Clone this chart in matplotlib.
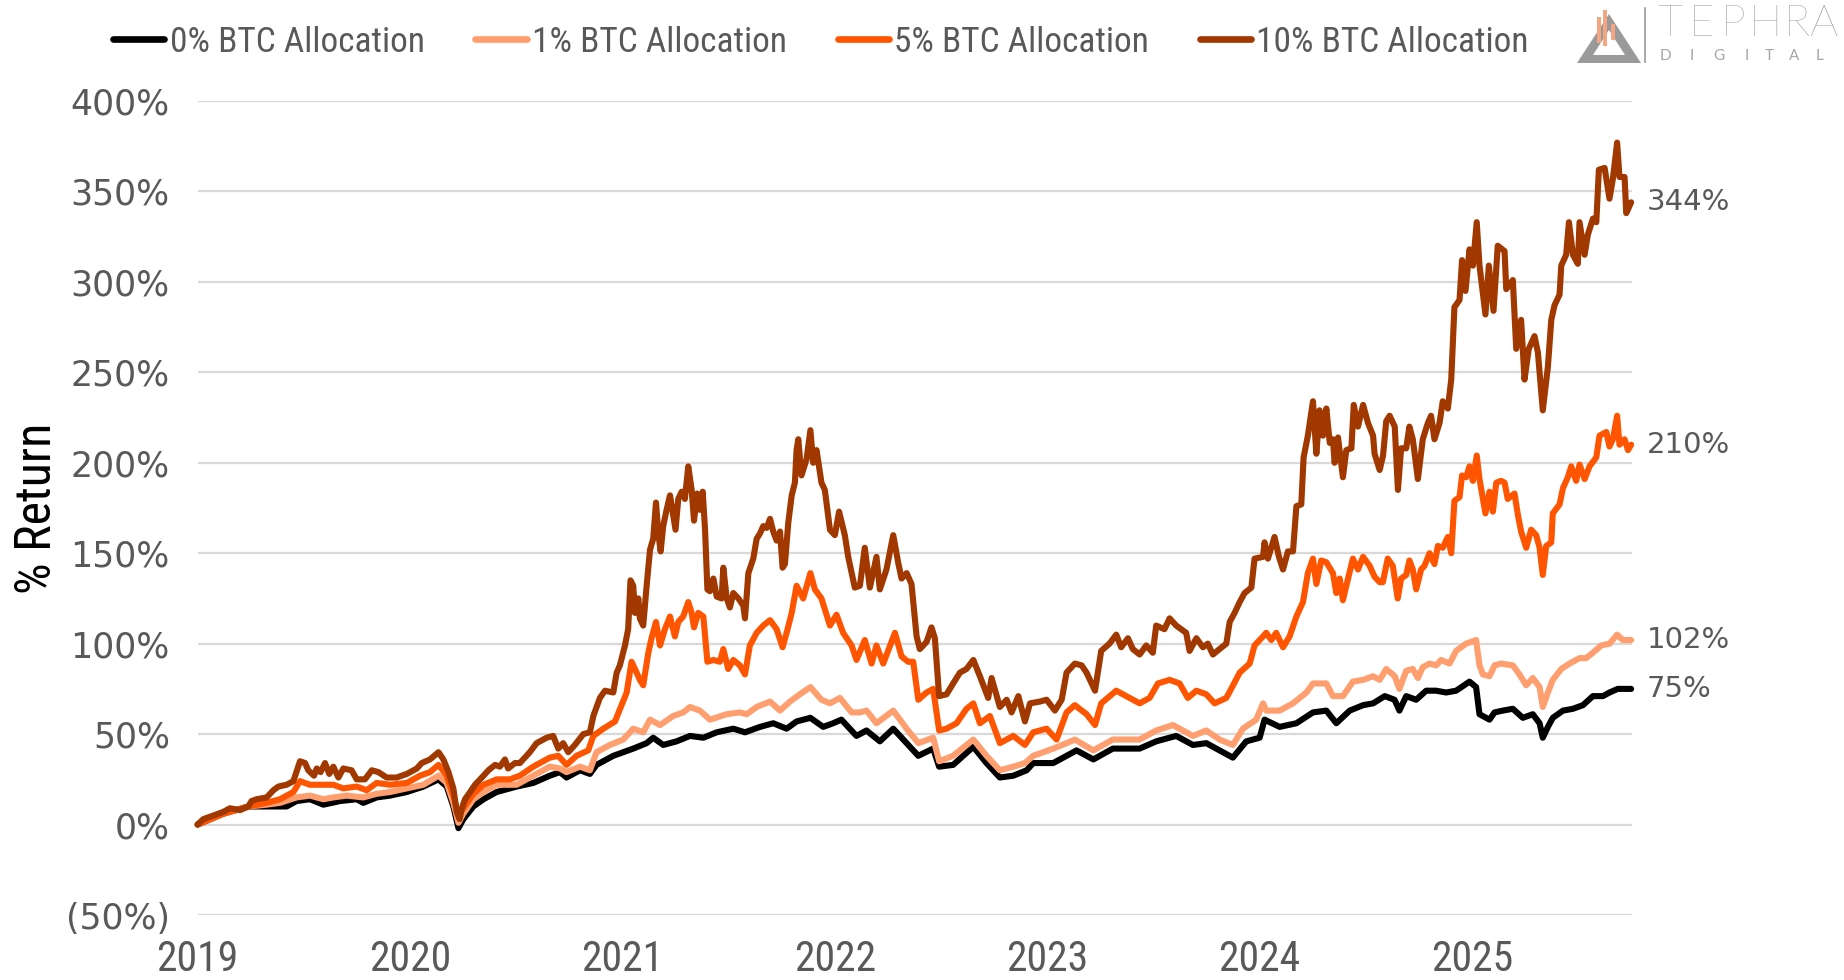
import matplotlib
matplotlib.use("Agg")
import matplotlib.pyplot as plt
from matplotlib.lines import Line2D
from matplotlib.patches import Polygon, Rectangle
from matplotlib.ticker import FixedLocator, FuncFormatter

# ---------------- data (decimal years, % return) ----------------
SERIES_NAMES = ["0% BTC Allocation", "1% BTC Allocation", "5% BTC Allocation", "10% BTC Allocation"]
SERIES_COLORS = ["#000000", "#FF9E6E", "#FF5500", "#A03800"]

BTC0_X = [2019.0, 2019.121, 2019.239, 2019.325, 2019.419, 2019.466, 2019.529, 2019.592, 2019.671, 2019.749,
          2019.78, 2019.843, 2019.906, 2019.985, 2020.063, 2020.134, 2020.173, 2020.204, 2020.228, 2020.251,
          2020.298, 2020.346, 2020.408, 2020.502, 2020.58, 2020.658, 2020.706, 2020.737, 2020.8, 2020.847,
          2020.878, 2020.957, 2021.051, 2021.114, 2021.145, 2021.192, 2021.255, 2021.318, 2021.381, 2021.444,
          2021.522, 2021.577, 2021.648, 2021.71, 2021.773, 2021.82, 2021.885, 2021.945, 2021.992, 2022.031,
          2022.102, 2022.149, 2022.212, 2022.275, 2022.338, 2022.393, 2022.463, 2022.491, 2022.557, 2022.652,
          2022.714, 2022.777, 2022.84, 2022.903, 2022.934, 2023.028, 2023.091, 2023.138, 2023.217, 2023.309,
          2023.435, 2023.513, 2023.607, 2023.686, 2023.749, 2023.811, 2023.874, 2023.937, 2024.0, 2024.023,
          2024.094, 2024.173, 2024.251, 2024.314, 2024.361, 2024.424, 2024.487, 2024.534, 2024.589, 2024.635,
          2024.658, 2024.69, 2024.737, 2024.784, 2024.831, 2024.878, 2024.925, 2024.988, 2025.019, 2025.035,
          2025.082, 2025.106, 2025.145, 2025.192, 2025.239, 2025.286, 2025.318, 2025.333, 2025.357, 2025.38,
          2025.428, 2025.475, 2025.522, 2025.569, 2025.616, 2025.647, 2025.686, 2025.749]
BTC0_Y = [0, 6, 10, 10, 10, 13, 14, 11, 13, 14,
          12, 15, 16, 18, 21, 25, 21, 10, -2, 3,
          10, 14, 18, 21, 23, 27, 29, 26, 30, 28,
          33, 38, 42, 45, 48, 44, 46, 49, 48, 51,
          53, 51, 54, 56, 53, 57, 59, 54, 56, 58,
          49, 52, 46, 53, 45, 38, 42, 32, 33, 43,
          34, 26, 27, 30, 34, 34, 38, 41, 36, 42,
          42, 46, 49, 44, 45, 41, 37, 46, 48, 58,
          54, 56, 62, 63, 56, 63, 66, 67, 71, 69,
          63, 71, 69, 74, 74, 73, 74, 79, 76, 61,
          58, 62, 63, 64, 59, 61, 56, 48, 54, 59,
          63, 64, 66, 71, 71, 73, 75, 75]

BTC1_X = [2019.0, 2019.121, 2019.239, 2019.325, 2019.388, 2019.466, 2019.529, 2019.592, 2019.639, 2019.702,
          2019.78, 2019.843, 2019.906, 2019.985, 2020.063, 2020.134, 2020.173, 2020.204, 2020.228, 2020.251,
          2020.298, 2020.346, 2020.408, 2020.502, 2020.58, 2020.658, 2020.706, 2020.737, 2020.8, 2020.847,
          2020.878, 2020.941, 2021.004, 2021.051, 2021.098, 2021.13, 2021.177, 2021.239, 2021.286, 2021.318,
          2021.365, 2021.412, 2021.491, 2021.553, 2021.585, 2021.632, 2021.695, 2021.742, 2021.789, 2021.835,
          2021.885, 2021.937, 2021.977, 2022.024, 2022.079, 2022.118, 2022.149, 2022.196, 2022.275, 2022.338,
          2022.393, 2022.463, 2022.491, 2022.557, 2022.652, 2022.714, 2022.777, 2022.84, 2022.895, 2022.934,
          2023.028, 2023.091, 2023.13, 2023.217, 2023.309, 2023.435, 2023.513, 2023.592, 2023.686, 2023.749,
          2023.811, 2023.874, 2023.921, 2023.984, 2024.016, 2024.031, 2024.094, 2024.157, 2024.22, 2024.251,
          2024.314, 2024.345, 2024.392, 2024.439, 2024.487, 2024.534, 2024.565, 2024.596, 2024.636, 2024.658,
          2024.69, 2024.721, 2024.745, 2024.768, 2024.8, 2024.831, 2024.854, 2024.894, 2024.925, 2024.972,
          2025.019, 2025.035, 2025.051, 2025.082, 2025.106, 2025.137, 2025.192, 2025.223, 2025.255, 2025.286,
          2025.318, 2025.333, 2025.357, 2025.38, 2025.42, 2025.459, 2025.506, 2025.537, 2025.569, 2025.608,
          2025.647, 2025.683, 2025.71, 2025.749]
BTC1_Y = [0, 6, 10, 11, 12, 15, 16, 14, 15, 16,
          15, 17, 18, 20, 22, 27, 23, 12, 1, 6,
          14, 18, 22, 22, 27, 32, 31, 29, 32, 30,
          40, 44, 47, 53, 51, 58, 55, 60, 62, 65,
          63, 58, 61, 62, 61, 65, 68, 63, 68, 72,
          76, 69, 67, 70, 62, 62, 63, 56, 63, 53,
          45, 48, 35, 38, 47, 38, 30, 32, 34, 38,
          42, 45, 47, 41, 47, 47, 52, 55, 49, 52,
          47, 44, 53, 58, 67, 63, 63, 67, 73, 78,
          78, 71, 71, 79, 80, 82, 80, 86, 82, 75,
          85, 86, 81, 87, 89, 88, 91, 89, 96, 100,
          102, 88, 83, 82, 88, 89, 88, 83, 77, 81,
          76, 65, 73, 80, 86, 89, 92, 92, 95, 99,
          100, 105, 102, 102]

BTC5_X = [2019.0, 2019.121, 2019.239, 2019.325, 2019.388, 2019.451, 2019.482, 2019.529, 2019.592, 2019.639,
          2019.686, 2019.749, 2019.796, 2019.843, 2019.906, 2019.985, 2020.047, 2020.094, 2020.134, 2020.173,
          2020.204, 2020.228, 2020.251, 2020.298, 2020.346, 2020.408, 2020.47, 2020.517, 2020.58, 2020.658,
          2020.698, 2020.737, 2020.784, 2020.839, 2020.863, 2020.91, 2020.965, 2020.996, 2021.02, 2021.043,
          2021.067, 2021.082, 2021.098, 2021.122, 2021.137, 2021.158, 2021.177, 2021.2, 2021.224, 2021.247,
          2021.263, 2021.286, 2021.31, 2021.326, 2021.337, 2021.357, 2021.381, 2021.4, 2021.428, 2021.459,
          2021.475, 2021.498, 2021.522, 2021.553, 2021.577, 2021.6, 2021.632, 2021.663, 2021.695, 2021.726,
          2021.754, 2021.773, 2021.797, 2021.82, 2021.851, 2021.885, 2021.906, 2021.937, 2021.977, 2022.008,
          2022.039, 2022.079, 2022.102, 2022.141, 2022.173, 2022.196, 2022.228, 2022.283, 2022.314, 2022.345,
          2022.369, 2022.393, 2022.432, 2022.463, 2022.491, 2022.526, 2022.573, 2022.62, 2022.652, 2022.683,
          2022.73, 2022.777, 2022.84, 2022.895, 2022.934, 2022.997, 2023.044, 2023.091, 2023.13, 2023.185,
          2023.225, 2023.254, 2023.325, 2023.372, 2023.435, 2023.482, 2023.521, 2023.576, 2023.623, 2023.662,
          2023.702, 2023.749, 2023.788, 2023.843, 2023.866, 2023.906, 2023.953, 2023.976, 2024.016, 2024.031,
          2024.055, 2024.078, 2024.11, 2024.141, 2024.173, 2024.204, 2024.227, 2024.251, 2024.267, 2024.29,
          2024.314, 2024.345, 2024.361, 2024.377, 2024.392, 2024.408, 2024.439, 2024.463, 2024.487, 2024.518,
          2024.541, 2024.565, 2024.58, 2024.603, 2024.627, 2024.65, 2024.666, 2024.69, 2024.705, 2024.721,
          2024.737, 2024.76, 2024.776, 2024.8, 2024.823, 2024.839, 2024.862, 2024.886, 2024.902, 2024.917,
          2024.941, 2024.953, 2024.972, 2024.988, 2025.004, 2025.022, 2025.035, 2025.063, 2025.082, 2025.098,
          2025.114, 2025.137, 2025.153, 2025.168, 2025.2, 2025.216, 2025.231, 2025.255, 2025.278, 2025.302,
          2025.318, 2025.333, 2025.349, 2025.373, 2025.38, 2025.412, 2025.428, 2025.451, 2025.467, 2025.49,
          2025.506, 2025.53, 2025.553, 2025.585, 2025.6, 2025.632, 2025.647, 2025.663, 2025.683, 2025.694,
          2025.718, 2025.734, 2025.749]
BTC5_Y = [0, 6, 10, 12, 14, 18, 24, 22, 22, 22,
          20, 21, 19, 23, 22, 23, 27, 29, 33, 27,
          16, 5, 9, 17, 22, 25, 25, 27, 32, 37,
          38, 33, 38, 41, 49, 53, 57, 66, 73, 90,
          84, 80, 77, 95, 103, 112, 99, 108, 115, 104,
          112, 115, 123, 117, 109, 117, 115, 90, 91, 90,
          97, 86, 91, 88, 83, 99, 106, 110, 113, 108,
          98, 106, 117, 132, 125, 139, 130, 125, 110, 116,
          106, 99, 91, 102, 89, 99, 89, 106, 93, 90,
          90, 69, 73, 75, 52, 53, 56, 64, 67, 56,
          60, 45, 49, 44, 51, 53, 47, 62, 66, 61,
          55, 67, 74, 71, 67, 70, 78, 80, 78, 70,
          74, 72, 67, 70, 75, 84, 89, 99, 104, 106,
          102, 106, 98, 104, 115, 123, 139, 147, 133, 146,
          145, 139, 128, 136, 124, 132, 147, 141, 148, 143,
          137, 134, 134, 147, 143, 125, 136, 138, 146, 141,
          130, 141, 143, 150, 144, 154, 153, 159, 150, 179,
          181, 193, 192, 198, 190, 204, 191, 172, 184, 173,
          189, 190, 189, 180, 183, 171, 162, 153, 163, 160,
          153, 138, 154, 156, 172, 177, 186, 192, 198, 190,
          199, 191, 198, 203, 215, 217, 209, 213, 226, 210,
          213, 207, 210]

BTC10_X = [2019.0, 2019.027, 2019.074, 2019.121, 2019.152, 2019.2, 2019.239, 2019.254, 2019.278, 2019.325,
           2019.357, 2019.38, 2019.419, 2019.451, 2019.482, 2019.506, 2019.521, 2019.548, 2019.561, 2019.579,
           2019.6, 2019.62, 2019.639, 2019.663, 2019.686, 2019.725, 2019.749, 2019.788, 2019.82, 2019.851,
           2019.89, 2019.937, 2019.985, 2020.032, 2020.055, 2020.094, 2020.134, 2020.157, 2020.181, 2020.204,
           2020.22, 2020.233, 2020.244, 2020.259, 2020.283, 2020.306, 2020.33, 2020.346, 2020.369, 2020.401,
           2020.423, 2020.447, 2020.462, 2020.494, 2020.517, 2020.564, 2020.596, 2020.643, 2020.674, 2020.698,
           2020.721, 2020.745, 2020.776, 2020.816, 2020.847, 2020.863, 2020.894, 2020.918, 2020.957, 2020.973,
           2020.988, 2021.012, 2021.027, 2021.038, 2021.051, 2021.059, 2021.075, 2021.082, 2021.098, 2021.114,
           2021.13, 2021.145, 2021.158, 2021.169, 2021.18, 2021.192, 2021.208, 2021.224, 2021.239, 2021.25,
           2021.263, 2021.279, 2021.294, 2021.31, 2021.326, 2021.337, 2021.352, 2021.365, 2021.378, 2021.389,
           2021.4, 2021.412, 2021.428, 2021.444, 2021.467, 2021.475, 2021.491, 2021.506, 2021.522, 2021.546,
           2021.569, 2021.577, 2021.593, 2021.616, 2021.632, 2021.648, 2021.663, 2021.679, 2021.695, 2021.71,
           2021.726, 2021.742, 2021.754, 2021.765, 2021.781, 2021.797, 2021.812, 2021.82, 2021.828, 2021.843,
           2021.867, 2021.885, 2021.898, 2021.914, 2021.937, 2021.953, 2021.977, 2022.0, 2022.02, 2022.047,
           2022.063, 2022.094, 2022.118, 2022.141, 2022.165, 2022.196, 2022.212, 2022.243, 2022.275, 2022.298,
           2022.314, 2022.338, 2022.361, 2022.385, 2022.4, 2022.432, 2022.455, 2022.471, 2022.491, 2022.526,
           2022.557, 2022.589, 2022.62, 2022.652, 2022.683, 2022.722, 2022.738, 2022.777, 2022.809, 2022.832,
           2022.864, 2022.895, 2022.919, 2022.966, 2022.997, 2023.036, 2023.068, 2023.091, 2023.13, 2023.162,
           2023.185, 2023.225, 2023.254, 2023.293, 2023.325, 2023.348, 2023.38, 2023.403, 2023.435, 2023.466,
           2023.497, 2023.513, 2023.552, 2023.576, 2023.607, 2023.654, 2023.67, 2023.702, 2023.733, 2023.756,
           2023.78, 2023.811, 2023.843, 2023.859, 2023.882, 2023.906, 2023.929, 2023.961, 2023.976, 2024.016,
           2024.023, 2024.039, 2024.07, 2024.091, 2024.11, 2024.133, 2024.157, 2024.173, 2024.196, 2024.207,
           2024.227, 2024.251, 2024.267, 2024.282, 2024.298, 2024.314, 2024.33, 2024.345, 2024.353, 2024.369,
           2024.392, 2024.408, 2024.432, 2024.443, 2024.463, 2024.487, 2024.51, 2024.534, 2024.541, 2024.565,
           2024.581, 2024.596, 2024.612, 2024.636, 2024.651, 2024.666, 2024.69, 2024.705, 2024.721, 2024.745,
           2024.768, 2024.792, 2024.807, 2024.823, 2024.847, 2024.862, 2024.886, 2024.902, 2024.917, 2024.941,
           2024.953, 2024.969, 2024.988, 2025.004, 2025.022, 2025.035, 2025.063, 2025.079, 2025.101, 2025.121,
           2025.153, 2025.161, 2025.192, 2025.208, 2025.231, 2025.247, 2025.267, 2025.294, 2025.31, 2025.333,
           2025.357, 2025.373, 2025.388, 2025.412, 2025.42, 2025.443, 2025.456, 2025.475, 2025.498, 2025.506,
           2025.53, 2025.545, 2025.569, 2025.585, 2025.597, 2025.624, 2025.647, 2025.663, 2025.683, 2025.694,
           2025.718, 2025.726, 2025.749]
BTC10_Y = [0, 3, 5, 7, 9, 8, 10, 13, 14, 15,
           19, 21, 22, 24, 35, 34, 30, 27, 31, 29,
           34, 28, 32, 26, 31, 30, 25, 25, 30, 29,
           26, 26, 28, 31, 34, 36, 40, 36, 29, 20,
           7, 3, 9, 14, 18, 22, 25, 27, 30, 33,
           32, 36, 31, 34, 34, 40, 45, 48, 49, 42,
           45, 40, 44, 50, 51, 60, 70, 74, 73, 84,
           88, 99, 108, 135, 132, 117, 125, 114, 110, 132,
           152, 158, 178, 161, 151, 165, 174, 182, 171, 163,
           180, 184, 180, 198, 185, 168, 183, 174, 184, 163,
           130, 129, 136, 126, 125, 142, 125, 120, 128, 125,
           121, 114, 139, 147, 158, 161, 165, 164, 169, 162,
           157, 162, 142, 144, 167, 182, 189, 207, 213, 193,
           202, 218, 200, 207, 189, 185, 163, 160, 173, 160,
           148, 131, 132, 153, 131, 148, 130, 141, 160, 145,
           136, 139, 133, 104, 97, 101, 109, 103, 71, 72,
           78, 84, 86, 91, 82, 70, 81, 65, 69, 62,
           71, 57, 67, 68, 69, 63, 69, 84, 89, 88,
           84, 74, 96, 100, 105, 98, 103, 97, 94, 99,
           95, 110, 108, 114, 110, 106, 96, 103, 98, 100,
           94, 97, 100, 112, 117, 123, 128, 131, 147, 148,
           156, 147, 159, 148, 141, 151, 151, 176, 177, 203,
           215, 234, 205, 229, 215, 230, 211, 213, 200, 214,
           192, 207, 208, 232, 220, 232, 222, 215, 205, 196,
           204, 223, 226, 220, 185, 208, 208, 220, 213, 191,
           213, 222, 226, 213, 222, 234, 230, 246, 286, 290,
           312, 295, 318, 309, 333, 309, 282, 309, 284, 320,
           317, 296, 301, 263, 279, 246, 263, 270, 261, 229,
           253, 279, 287, 293, 309, 315, 333, 315, 310, 333,
           315, 326, 335, 333, 362, 363, 346, 357, 377, 358,
           358, 338, 344]

END_LABELS = ["75%", "102%", "210%", "344%"]

Y_TICKS = [-50, 0, 50, 100, 150, 200, 250, 300, 350, 400]
X_TICKS = [2019, 2020, 2021, 2022, 2023, 2024, 2025]
X_TICK_LABELS = ["2019", "2020", "2021", "2022", "2023", "2024", "2025"]

LOGO_WORD = "TEPHRA"
LOGO_SUB = "DIGITAL"

# ---------------- figure ----------------
W, H = 1844, 980
fig = plt.figure(figsize=(W / 100, H / 100), dpi=100)
ax = fig.add_axes([197.6 / W, 1 - 915 / H, (1632 - 197.6) / W, (915 - 101) / H])

NARROW = ["Liberation Sans Narrow", "Roboto Condensed", "Liberation Sans", "DejaVu Sans"]
WIDE = ["DejaVu Sans"]
GREY = "#595959"

xs = [BTC0_X, BTC1_X, BTC5_X, BTC10_X]
ys = [BTC0_Y, BTC1_Y, BTC5_Y, BTC10_Y]
for x, y, c, name in zip(xs, ys, SERIES_COLORS, SERIES_NAMES):
    ax.plot(x, y, color=c, lw=4.4, solid_joinstyle="round", solid_capstyle="round",
            clip_on=False, label=name, zorder=3)

for x, y, lab in zip(xs, ys, END_LABELS):
    ax.annotate(lab, xy=(x[-1], y[-1]), xytext=(11, 0), textcoords="offset points",
                va="center", ha="left", fontsize=21, color=GREY, family=WIDE)

ax.set_xlim(2019.0, 2025.753)
ax.set_ylim(-50, 400)
ax.yaxis.set_major_locator(FixedLocator(Y_TICKS))
ax.yaxis.set_major_formatter(FuncFormatter(lambda v, p: f"({abs(v):.0f}%)" if v < 0 else f"{v:.0f}%"))
ax.set_xticks(X_TICKS)
ax.set_xticklabels(X_TICK_LABELS)
ax.grid(axis="y", color="#d9d9d9", lw=1.6, zorder=0)
ax.set_axisbelow(True)
for s in ax.spines.values():
    s.set_visible(False)
ax.tick_params(axis="both", length=0)
ax.tick_params(axis="y", pad=20, labelsize=25, labelcolor=GREY)
ax.tick_params(axis="x", pad=17, labelsize=30, labelcolor=GREY)
for t in ax.get_yticklabels():
    t.set_family(WIDE)
for t in ax.get_xticklabels():
    t.set_family(NARROW)

ax.set_ylabel("% Return", fontsize=36, color="black", family=NARROW)
ax.yaxis.set_label_coords(-0.095, 0.5)

# legend
handles = [Line2D([0], [0], color=c, lw=4.8, solid_capstyle="round") for c in SERIES_COLORS]
leg = fig.legend(handles, SERIES_NAMES, loc="center left", bbox_to_anchor=(113 / W, 1 - 42 / H),
                 ncol=4, frameon=False, handlelength=1.45, handletextpad=0.15, columnspacing=1.43,
                 borderaxespad=0, borderpad=0, prop={"family": NARROW, "size": 25.5})
for t in leg.get_texts():
    t.set_color(GREY)

# logo (pixel coordinates, origin top-left)
def P(x, y):
    return (x / W, 1 - y / H)

fig.patches.append(Polygon([P(1577, 63), P(1641, 63), P(1609, 14)], closed=True,
                           transform=fig.transFigure, facecolor="#9a9a9a", edgecolor="none"))
fig.patches.append(Polygon([P(1593, 55), P(1625, 55), P(1609, 30)], closed=True,
                           transform=fig.transFigure, facecolor="white", edgecolor="none"))
for (x0, y0, x1, y1) in [(1597, 17, 1601, 43), (1603, 10, 1607, 46), (1611, 24, 1615, 40)]:
    fig.patches.append(Rectangle(P(x0, y1), (x1 - x0) / W, (y1 - y0) / H,
                                 transform=fig.transFigure, facecolor="#F4A582", edgecolor="none"))
fig.add_artist(Line2D([1645 / W, 1645 / W], [1 - 8 / H, 1 - 62 / H], color="#9a9a9a", lw=1.2,
                      transform=fig.transFigure))
for ch, cx in zip(LOGO_WORD, [1670, 1702, 1733, 1765, 1797, 1823]):
    fig.text(cx / W, 1 - 25 / H, ch, fontsize=32, color="#8f8f8f", va="center", ha="center",
             family=["Lato", "DejaVu Sans"], fontweight="light")
for ch, cx in zip(LOGO_SUB, [1665, 1692, 1719, 1747, 1769, 1794, 1820]):
    fig.text(cx / W, 1 - 56 / H, ch, fontsize=11, color="#a6a6a6", va="center", ha="center",
             family=["Lato", "DejaVu Sans"])

fig.savefig("out.png", dpi=100)
